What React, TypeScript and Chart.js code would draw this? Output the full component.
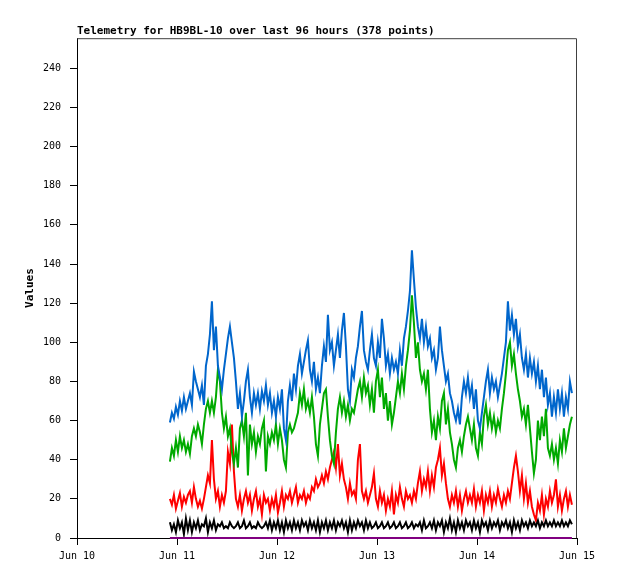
import { useEffect, useRef } from "react"
import { Chart, registerables } from "chart.js"

Chart.register(...registerables)

// x axis is hours since Jun 10 00:00
const dayTickHours = [0, 24, 48, 72, 96, 120]
const dayTickLabels = ["Jun 10", "Jun 11", "Jun 12", "Jun 13", "Jun 14", "Jun 15"]
const valueTicks = [0, 20, 40, 60, 80, 100, 120, 140, 160, 180, 200, 220, 240]

// samples are evenly spaced, first one a bit before Jun 11
const sampleStartHour = 22.3
const sampleStepHours = 0.48

const blueValues = [
  59, 64, 61, 67, 63, 70, 65, 72, 66, 70,
  74, 68, 85, 80, 76, 72, 78, 68, 88, 94,
  104, 121, 96, 108, 88, 82, 76, 86, 94, 102,
  108, 100, 92, 80, 66, 74, 62, 70, 80, 86,
  72, 64, 74, 68, 74, 66, 75, 70, 78, 68,
  74, 64, 70, 62, 72, 66, 76, 56, 50, 70,
  78, 70, 84, 76, 88, 94, 84, 90, 96, 101,
  86, 80, 90, 76, 82, 74, 88, 98, 90, 114,
  96, 100, 88, 96, 104, 92, 106, 115, 98, 76,
  70, 86, 82, 92, 98, 108, 116, 96, 90, 86,
  96, 104, 92, 88, 100, 92, 112, 102, 88, 94,
  84, 92, 86, 90, 84, 96, 88, 102, 108, 116,
  126, 147, 132, 118, 108, 102, 112, 100, 108, 98,
  102, 92, 96, 86, 92, 108, 96, 88, 80, 84,
  74, 70, 64, 60, 66, 58, 72, 80, 74, 82,
  72, 78, 66, 76, 60, 56, 64, 72, 80, 86,
  74, 82, 76, 80, 72, 78, 84, 92, 100, 121,
  106, 114, 104, 112, 98, 104, 92, 86, 94, 82,
  92, 84, 90, 80, 88, 76, 86, 72, 82, 68,
  74, 62, 72, 64, 76, 66, 74, 62, 72, 66,
  80, 74,
]

const greenValues = [
  39, 46, 42, 50, 44, 52, 46, 50, 44, 48,
  43, 52, 56, 52, 58, 54, 48, 58, 66, 70,
  64, 70, 64, 72, 86, 80, 64, 56, 62, 52,
  56, 44, 38, 46, 36, 56, 60, 52, 64, 32,
  58, 48, 54, 44, 52, 48, 56, 60, 34, 52,
  48, 54, 50, 58, 48, 56, 50, 40, 36, 54,
  58, 54, 56, 60, 64, 74, 68, 76, 66, 70,
  64, 72, 62, 48, 42, 58, 66, 74, 76, 62,
  50, 42, 38, 54, 66, 72, 64, 70, 62, 68,
  60, 66, 64, 70, 76, 80, 72, 82, 74, 78,
  68, 76, 64, 80, 86, 72, 82, 66, 74, 60,
  70, 58, 64, 72, 80, 74, 84, 76, 88, 96,
  106, 124, 110, 92, 100, 86, 80, 84, 76, 86,
  66, 54, 60, 50, 62, 56, 70, 74, 58, 66,
  54, 48, 40, 36, 46, 50, 44, 52, 58, 62,
  56, 50, 58, 46, 42, 54, 48, 62, 68, 58,
  64, 56, 62, 54, 60, 56, 66, 74, 84, 96,
  100, 88, 94, 84, 76, 70, 62, 66, 58, 68,
  56, 44, 33, 40, 60, 50, 62, 52, 66, 46,
  42, 48, 40, 46, 38, 50, 44, 56, 46, 52,
  58, 62,
]

const redValues = [
  20, 17, 22, 15, 19, 23, 16, 21, 18, 22,
  24, 18, 26, 20, 16, 19, 15, 20, 26, 32,
  28, 50, 30, 20, 24, 16, 22, 18, 24, 44,
  38, 58, 34, 20, 16, 22, 14, 20, 24, 18,
  22, 14, 20, 24, 16, 20, 12, 22, 18, 20,
  14, 20, 16, 22, 13, 18, 24, 16, 22, 20,
  24, 18, 22, 26, 18, 22, 20, 24, 18, 22,
  20, 26, 24, 30, 26, 28, 32, 28, 34, 30,
  36, 40, 44, 36, 48, 32, 38, 30, 26, 20,
  28, 22, 24, 20, 40, 48, 24, 20, 24, 18,
  22, 26, 33, 20, 16, 24, 18, 22, 14, 20,
  16, 24, 12, 22, 18, 26, 20, 16, 24, 20,
  22, 18, 24, 20, 28, 34, 24, 30, 26, 34,
  24, 32, 26, 36, 40, 46, 32, 38, 28, 20,
  16, 22, 18, 24, 16, 22, 14, 20, 24, 18,
  22, 18, 25, 16, 22, 18, 24, 14, 22, 18,
  24, 16, 22, 18, 25, 20, 16, 22, 18, 24,
  20, 28, 36, 42, 34, 24, 32, 20, 28, 18,
  24, 16, 12, 9, 18, 14, 22, 12, 20, 16,
  24, 18, 22, 30, 16, 22, 14, 20, 24, 16,
  22, 17,
]

const blackValues = [
  8, 4, 7, 3, 9, 5, 8, 2, 10, 4,
  9, 3, 8, 5, 9, 4, 7, 6, 10, 3,
  8, 5, 9, 4, 7, 6, 8, 5, 6, 5,
  8, 6, 5, 6, 8, 5, 6, 9, 5, 6,
  8, 5, 6, 5, 8, 6, 5, 6, 8, 5,
  9, 4, 8, 5, 9, 4, 8, 3, 9, 5,
  8, 4, 9, 5, 8, 4, 9, 6, 8, 4,
  9, 5, 8, 4, 9, 3, 8, 5, 9, 4,
  8, 5, 9, 4, 8, 6, 9, 5, 8, 3,
  9, 4, 8, 5, 9, 6, 8, 4, 9, 5,
  8, 5, 6, 8, 5, 6, 8, 5, 6, 8,
  5, 6, 8, 5, 6, 8, 5, 6, 8, 5,
  6, 8, 5, 7, 6, 8, 4, 9, 5, 6,
  8, 5, 9, 4, 8, 6, 9, 3, 8, 5,
  10, 4, 8, 3, 9, 5, 8, 4, 9, 6,
  8, 4, 9, 5, 8, 3, 9, 6, 8, 4,
  9, 5, 8, 6, 9, 4, 8, 6, 9, 5,
  8, 3, 9, 5, 8, 4, 9, 6, 8, 5,
  9, 6, 8, 6, 9, 5, 8, 6, 9, 6,
  8, 6, 9, 6, 8, 6, 9, 6, 8, 6,
  9, 7,
]

// purple channel sits flat at zero for the whole window
const purpleHours = [22.3, 118.78]
const purpleValues = [0, 0]

const toPoints = (values: number[]) =>
  values.map((v, i) => ({ x: sampleStartHour + i * sampleStepHours, y: v }))

const monoFont = "'DejaVu Sans Mono', monospace"

export default function App() {
  const chartRef = useRef<HTMLCanvasElement>(null)
  const chartInstance = useRef<Chart | null>(null)

  useEffect(() => {
    if (!chartRef.current) return

    if (chartInstance.current) {
      chartInstance.current.destroy()
    }

    // gray top/right edges of the plot frame
    const framePlugin = {
      id: "frame",
      afterDraw(chart: any) {
        const { ctx, chartArea } = chart
        ctx.save()
        ctx.strokeStyle = "#404040"
        ctx.lineWidth = 1
        ctx.beginPath()
        ctx.moveTo(chartArea.left, chartArea.top + 0.5)
        ctx.lineTo(chartArea.right - 0.5, chartArea.top + 0.5)
        ctx.lineTo(chartArea.right - 0.5, chartArea.bottom)
        ctx.stroke()
        ctx.restore()
      },
    }

    const line = (color: string, values: number[]) => ({
      data: toPoints(values),
      borderColor: color,
      backgroundColor: color,
      borderWidth: 2,
      pointRadius: 0,
      tension: 0,
    })

    const ctx = chartRef.current.getContext("2d")
    if (ctx) {
      chartInstance.current = new Chart(ctx, {
        type: "line",
        data: {
          datasets: [
            {
              data: purpleHours.map((h, i) => ({ x: h, y: purpleValues[i] })),
              borderColor: "#800080",
              backgroundColor: "#800080",
              borderWidth: 2,
              pointRadius: 0,
              clip: false,
            },
            line("#000000", blackValues),
            line("#0066cc", blueValues),
            line("#00aa00", greenValues),
            line("#ff0000", redValues),
          ],
        },
        options: {
          responsive: false,
          animation: false,
          layout: { padding: { top: 25, right: 41, bottom: 0, left: 0 } },
          plugins: {
            legend: { display: false },
            tooltip: { enabled: false },
            title: {
              display: true,
              text: "Telemetry for HB9BL-10 over last 96 hours (378 points)",
              align: "start",
              fullSize: false,
              color: "#000",
              font: { family: monoFont, size: 11, weight: "bold", lineHeight: 1.2 },
              padding: { top: 0, bottom: 0 },
            },
          },
          scales: {
            x: {
              type: "linear",
              min: 0,
              max: 120,
              afterBuildTicks: (scale: any) => {
                scale.ticks = dayTickHours.map((v) => ({ value: v }))
              },
              afterFit: (scale: any) => {
                scale.height = 41
              },
              grid: { drawOnChartArea: false, tickLength: 7, color: "#000" },
              border: { color: "#000", width: 1 },
              ticks: {
                autoSkip: false,
                maxRotation: 0,
                padding: 5,
                color: "#000",
                font: { family: monoFont, size: 10 },
                callback: (v: any) => dayTickLabels[dayTickHours.indexOf(Number(v))],
              },
            },
            y: {
              min: 0,
              max: 255.4,
              afterBuildTicks: (scale: any) => {
                scale.ticks = valueTicks.map((v) => ({ value: v }))
              },
              afterFit: (scale: any) => {
                scale.width = 77
              },
              grid: { drawOnChartArea: false, tickLength: 7, color: "#000" },
              border: { color: "#000", width: 1 },
              ticks: {
                padding: 9,
                color: "#000",
                font: { family: monoFont, size: 10 },
                callback: (v: any) => String(v),
              },
              title: {
                display: true,
                text: "Values",
                color: "#000",
                font: { family: monoFont, size: 11, weight: "bold", lineHeight: 1.2 },
                padding: { top: 24, bottom: 0 },
              },
            },
          },
        },
        plugins: [framePlugin],
      })
    }

    return () => {
      if (chartInstance.current) {
        chartInstance.current.destroy()
        chartInstance.current = null
      }
    }
  }, [])

  return (
    <div style={{ position: "absolute", left: 0, top: 0, width: 618, height: 579, background: "#fff" }}>
      <canvas ref={chartRef} width={618} height={579} />
    </div>
  )
}
